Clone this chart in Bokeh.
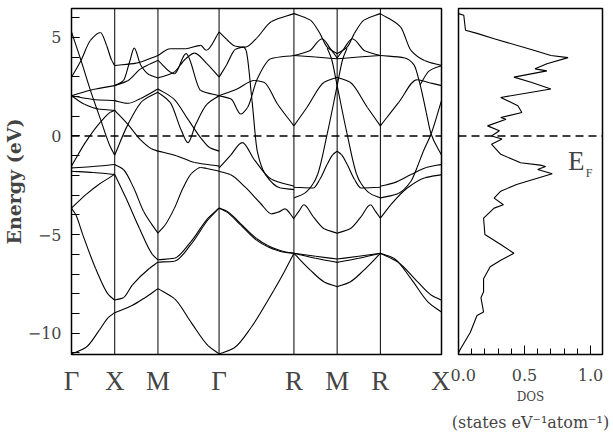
from bokeh.plotting import figure
from bokeh.layouts import row
from bokeh.models import Range1d, FixedTicker, Span, Label, Title, ColumnDataSource
from bokeh.embed import file_html
from bokeh.resources import INLINE

SERIF = "Liberation Serif"
WIDE_SERIF = "DejaVu Serif"

# ---- path through the simple-cubic Brillouin zone ----
K_LABELS = ["Γ", "X", "M", "Γ", "R", "M", "R", "X"]
K_SEGMENTS = [0.5, 0.5, 0.7071, 0.8660, 0.5, 0.5, 0.7071]

# Band energies (eV) on each segment, given as (fraction along segment, E)
BANDS_GX = [
    [(0, 5.27), (.22, 3.83), (.44, 2.30), (.67, 0.85), (.89, -0.51), (1, -0.97)],
    [(0, 2.98), (.22, 3.83), (.44, 4.85), (.67, 5.24), (.81, 4.6), (.93, 3.83), (1, 3.57)],
    [(0, 2.04), (.5, 2.35), (1, 2.55)],
    [(0, 2.04), (.5, 1.85), (1, 1.79)],
    [(0, 2.04), (.3, 1.6), (.65, 1.35), (1, 1.30)],
    [(0, -1.53), (.33, -0.3), (.67, 0.7), (.9, 1.2), (1, 1.30)],
    [(0, -1.79), (.5, -1.85), (1, -1.95)],
    [(0, -1.62), (.5, -1.55), (1, -1.45)],
    [(0, -3.66), (.34, -2.96), (.64, -2.45), (1, -1.95)],
    [(0, -3.66), (.1, -4.0), (.26, -5.0), (.56, -6.73), (.86, -8.06), (1, -8.32)],
    [(0, -11.05), (.34, -10.71), (.64, -9.86), (.86, -9.19), (1, -8.96)],
]
BANDS_XM = [
    [(0, 3.57), (.5, 3.69), (1, 4.08)],
    [(0, 2.55), (.2, 2.8), (.35, 3.8), (.45, 4.45), (.6, 3.6), (.8, 3.1), (1, 2.94)],
    [(0, 2.55), (.3, 2.8), (.6, 3.4), (1, 3.83)],
    [(0, 1.79), (.3, 1.65), (.6, 1.9), (1, 2.38)],
    [(0, -0.97), (.29, 0.51), (.65, 1.79), (1, 2.21)],
    [(0, 1.30), (.3, 0.6), (.6, -0.2), (.85, -0.65), (1, -0.77)],
    [(0, -1.45), (.2, -1.7), (.44, -2.64), (.67, -3.83), (1, -4.93)],
    [(0, -1.95), (.25, -3.1), (.57, -4.68), (.87, -6.0), (1, -6.28)],
    [(0, -8.32), (.2, -8.2), (.41, -7.55), (.8, -6.72), (1, -6.40)],
    [(0, -8.96), (.4, -8.6), (.7, -8.2), (1, -7.74)],
]
BANDS_MG = [
    [(0, 4.08), (.2, 4.42), (.45, 4.42), (.7, 4.59), (.79, 4.34), (1, 5.27)],
    [(0, 3.83), (.27, 3.15), (.46, 4.17), (.7, 2.3), (1, 2.04)],
    [(0, 2.94), (.25, 3.2), (.45, 3.9), (.6, 4.2), (.8, 3.67), (1, 2.98)],
    [(0, 2.38), (.25, 1.9), (.5, 0.8), (.7, -0.1), (.85, -0.6), (1, -0.77)],
    [(0, 2.21), (.2, 1.7), (.38, 0.3), (.49, -0.34), (.62, 0.6), (.8, 1.6), (1, 2.04)],
    [(0, -0.77), (.3, -1.0), (.6, -1.35), (1, -1.53)],
    [(0, -4.93), (.12, -4.5), (.27, -3.66), (.41, -2.64), (.55, -1.9), (.7, -1.6), (.8, -1.65), (1, -1.79)],
    [(0, -6.28), (.27, -6.2), (.54, -5.36), (.82, -4.17), (1, -3.66)],
    [(0, -6.40), (.27, -6.35), (.54, -5.5), (.82, -4.25), (1, -3.66)],
    [(0, -7.74), (.27, -8.25), (.54, -9.44), (.82, -10.63), (1, -11.05)],
]
BANDS_GR = [
    [(0, 5.27), (.1, 4.9), (.22, 4.55), (.35, 4.5), (.5, 4.95), (.7, 5.8), (1, 6.2)],
    [(0, 2.98), (.1, 3.6), (.22, 4.4), (.33, 4.5), (.36, 4.34), (.44, 1.79), (.51, -0.77),
     (.62, -1.96), (.82, -2.64), (1, -2.72)],
    [(0, 2.04), (.24, 2.38), (.47, 2.81), (.6, 2.72), (.78, 1.62), (1, 0.51)],
    [(0, 2.04), (.16, 1.87), (.29, 1.11), (.38, 1.44), (.51, 2.89), (.69, 3.91), (1, 4.08)],
    [(0, -1.62), (.15, -1.0), (.31, -0.34), (.47, -1.2), (.7, -2.2), (1, -2.55)],
    [(0, -1.79), (.15, -1.95), (.35, -2.6), (.55, -3.4), (.7, -3.95), (.8, -3.85), (.88, -3.7), (1, -4.2)],
    [(0, -3.66), (.1, -3.8), (.29, -4.46), (.5, -5.2), (.65, -5.56), (.85, -5.85), (1, -5.95)],
    [(0, -3.66), (.1, -3.85), (.29, -4.52), (.5, -5.28), (.65, -5.62), (.85, -5.88), (1, -5.95)],
    [(0, -11.05), (.2, -10.75), (.43, -9.7), (.64, -8.42), (.73, -7.84), (.87, -6.9), (1, -5.95)],
]
BANDS_RM = [
    [(0, 6.2), (.38, 5.87), (.6, 5.2), (.77, 4.5), (1, 4.17)],
    [(0, 4.08), (.5, 4.0), (1, 3.91)],
    [(0, 4.08), (.35, 4.3), (.65, 4.93), (.85, 4.4), (1, 3.95)],
    [(0, 0.51), (.3, 1.44), (.7, 2.72), (1, 2.98)],
    [(0, -3.15), (.25, -2.9), (.45, -2.4), (.55, -1.94), (.77, 0.1), (1, 2.55)],
    [(.77, 4.45), (.87, 3.9), (1, 2.55)],
    [(0, -2.6), (.45, -2.64), (.6, -2.2), (.77, -1.44), (.9, -0.95), (1, -0.77)],
    [(0, -4.17), (.12, -3.8), (.23, -3.49), (.45, -4.1), (.7, -4.7), (1, -4.93)],
    [(0, -5.95), (.5, -6.1), (1, -6.24)],
    [(0, -5.95), (.5, -6.2), (1, -6.41)],
    [(0, -5.95), (.38, -6.8), (.7, -7.4), (1, -7.65)],
]
# M -> R retraces R -> M
BANDS_MR = [[(1 - t, e) for t, e in reversed(c)] for c in BANDS_RM]
BANDS_RX = [
    [(0, 6.2), (.33, 5.53), (.5, 4.34), (.72, 3.83), (1, 3.57)],
    [(0, 4.08), (.4, 3.95), (.55, 3.6), (.65, 2.6), (.75, 1.2), (.83, 0.1), (1, -0.97)],
    [(0, 0.51), (.3, 1.7), (.6, 2.85), (.8, 2.7), (1, 2.55)],
    [(.65, 2.6), (.8, 3.3), (1, 3.57)],
    [(0, -3.15), (.3, -2.9), (.5, -2.3), (.6, -1.6), (.7, -0.8), (.83, 0.1), (1, 1.79)],
    [(0, -2.55), (.22, -2.38), (.5, -1.96), (.75, -1.6), (1, -1.44)],
    [(0, -4.17), (.17, -3.49), (.44, -2.64), (.72, -2.13), (1, -1.96)],
    [(0, -5.95), (.28, -6.38), (.61, -7.4), (.83, -8.06), (1, -8.33)],
    [(0, -5.95), (.22, -6.2), (.5, -7.23), (.78, -8.42), (1, -8.93)],
]
SEGMENT_BANDS = [BANDS_GX, BANDS_XM, BANDS_MG, BANDS_GR, BANDS_RM, BANDS_MR, BANDS_RX]

# Total density of states (states eV^-1 atom^-1) against energy (eV)
DOS_E = [6.2, 6.12, 5.36, 5.2, 4.93, 4.34, 4.08, 3.97, 3.66, 3.4, 3.3, 2.98, 2.72, 2.38,
         1.95, 1.53, 1.19, 0.93, 0.85, 0.51, 0.26, 0.0, -0.16, -0.42, -0.93, -1.36, -1.48,
         -1.55, -1.7, -1.92, -2.46, -2.8, -3.15, -3.49, -3.66, -4.17, -5.0, -5.5, -5.95,
         -6.3, -6.63, -7.24, -7.9, -8.2, -8.93, -9.1, -9.95, -10.8, -11.0]
DOS_V = [0.0, 0.04, 0.053, 0.14, 0.27, 0.57, 0.70, 0.83, 0.67, 0.58, 0.67, 0.42, 0.55, 0.70,
         0.32, 0.45, 0.48, 0.32, 0.36, 0.22, 0.31, 0.25, 0.33, 0.25, 0.32, 0.47, 0.62,
         0.66, 0.60, 0.71, 0.44, 0.32, 0.27, 0.34, 0.27, 0.19, 0.20, 0.32, 0.42,
         0.32, 0.24, 0.19, 0.19, 0.17, 0.19, 0.14, 0.09, 0.015, 0.0]

E_MIN, E_MAX = -11.08, 6.46
E_TICKS = [-10, -5, 0, 5]
DOS_TICKS = [0.0, 0.5, 1.0]

k_nodes = [0.0]
for seg in K_SEGMENTS:
    k_nodes.append(k_nodes[-1] + seg)


def hermite_slopes(x, y):
    """Shape-preserving (monotone) tangents for a smooth curve through the points."""
    n = len(x)
    h = [x[i + 1] - x[i] for i in range(n - 1)]
    d = [(y[i + 1] - y[i]) / h[i] for i in range(n - 1)]
    m = [d[0]] + [0.0] * (n - 2) + [d[-1]]
    for i in range(1, n - 1):
        if d[i - 1] * d[i] > 0:
            w1, w2 = 2 * h[i] + h[i - 1], h[i] + 2 * h[i - 1]
            m[i] = (w1 + w2) / (w1 / d[i - 1] + w2 / d[i])
    return m


# each band becomes a chain of cubic Bezier pieces through its read-off points
bz = {key: [] for key in ("x0", "y0", "x1", "y1", "cx0", "cy0", "cx1", "cy1")}
for i, curves in enumerate(SEGMENT_BANDS):
    k0, L = k_nodes[i], K_SEGMENTS[i]
    for c in curves:
        xk = [k0 + t * L for t, _ in c]
        ek = [e for _, e in c]
        m = hermite_slopes(xk, ek)
        for j in range(len(xk) - 1):
            h = xk[j + 1] - xk[j]
            bz["x0"].append(xk[j]); bz["y0"].append(ek[j])
            bz["x1"].append(xk[j + 1]); bz["y1"].append(ek[j + 1])
            bz["cx0"].append(xk[j] + h / 3); bz["cy0"].append(ek[j] + m[j] * h / 3)
            bz["cx1"].append(xk[j + 1] - h / 3); bz["cy1"].append(ek[j + 1] - m[j + 1] * h / 3)

# ---------------- band-structure panel ----------------
p1 = figure(width=450, height=440, output_backend="svg", toolbar_location=None,
            x_range=Range1d(0, k_nodes[-1]), y_range=Range1d(E_MIN, E_MAX),
            min_border_left=70, min_border_right=9, min_border_top=8, min_border_bottom=86)
p1.grid.visible = False
p1.outline_line_color = "black"
p1.outline_line_width = 1.5

p1.bezier(x0="x0", y0="y0", x1="x1", y1="y1", cx0="cx0", cy0="cy0", cx1="cx1", cy1="cy1",
          source=ColumnDataSource(bz), line_color="black", line_width=1.1)

for k in k_nodes[1:-1]:
    p1.add_layout(Span(location=k, dimension="height", line_color="black", line_width=1))
p1.add_layout(Span(location=0, dimension="width", line_color="black",
                   line_width=1.5, line_dash="8 5"))

# k-point labels along the bottom
kax = p1.xaxis[0]
kax.ticker = FixedTicker(ticks=k_nodes)
kax.major_label_overrides = {k: lab for k, lab in zip(k_nodes, K_LABELS)}
kax.major_tick_line_color = None
kax.minor_tick_line_color = None
kax.axis_line_color = None
kax.major_label_text_font = SERIF
kax.major_label_text_font_size = "27px"
kax.major_label_standoff = 5

yax = p1.yaxis[0]
yax.ticker = FixedTicker(ticks=E_TICKS, minor_ticks=list(range(-11, 7)))
yax.major_label_overrides = {t: (str(t).replace("-", "\u2212")) for t in E_TICKS}
yax.major_tick_in = 8
yax.major_tick_out = 0
yax.minor_tick_in = 8
yax.minor_tick_out = 0
yax.axis_line_color = None
yax.major_label_text_font = WIDE_SERIF
yax.major_label_text_font_size = "16px"
yax.major_label_standoff = 10

p1.add_layout(Title(text="Energy (eV)", align="center", offset=11,
                    text_font=WIDE_SERIF, text_font_size="19px", text_font_style="bold",
                    standoff=0), "left")

# ---------------- density-of-states panel ----------------
p2 = figure(width=163, height=440, output_backend="svg", toolbar_location=None,
            x_range=Range1d(0, 1.091), y_range=p1.y_range,
            min_border_left=8, min_border_right=11, min_border_top=8, min_border_bottom=86)
p2.grid.visible = False
p2.outline_line_color = "black"
p2.outline_line_width = 1.5
p2.yaxis.visible = False
p2.line(DOS_V, DOS_E, line_color="black", line_width=1.1)
p2.add_layout(Span(location=0, dimension="width", line_color="black",
                   line_width=1.5, line_dash="8 5"))

xax = p2.xaxis[0]
xax.ticker = FixedTicker(ticks=DOS_TICKS, minor_ticks=[round(0.1 * i, 1) for i in range(11)])
xax.major_label_overrides = {t: f"{t:.1f}" for t in DOS_TICKS}
xax.major_tick_in = 9
xax.major_tick_out = 0
xax.minor_tick_in = 6
xax.minor_tick_out = 0
xax.axis_line_color = None
xax.major_label_text_font = WIDE_SERIF
xax.major_label_text_font_size = "16px"
xax.major_label_standoff = 14
xax.axis_label = "DOS"
xax.axis_label_text_font = WIDE_SERIF
xax.axis_label_text_font_style = "normal"
xax.axis_label_text_font_size = "12px"
xax.axis_label_standoff = 6

p2.add_layout(Title(text="(states eV\u207b\u00b9atom\u207b\u00b9)", align="center",
                    text_font=WIDE_SERIF, text_font_size="16px", text_font_style="normal",
                    standoff=9), "below")

p2.add_layout(Label(x=0.83, y=-1.25, text="E", text_align="left", text_baseline="alphabetic",
                    text_font=SERIF, text_font_size="27px"))
p2.add_layout(Label(x=0.965, y=-1.87, text="F", text_align="left", text_baseline="alphabetic",
                    text_font=SERIF, text_font_size="12px"))

layout = row(p1, p2, spacing=0)
open("out.html", "w").write(file_html(layout, INLINE))
